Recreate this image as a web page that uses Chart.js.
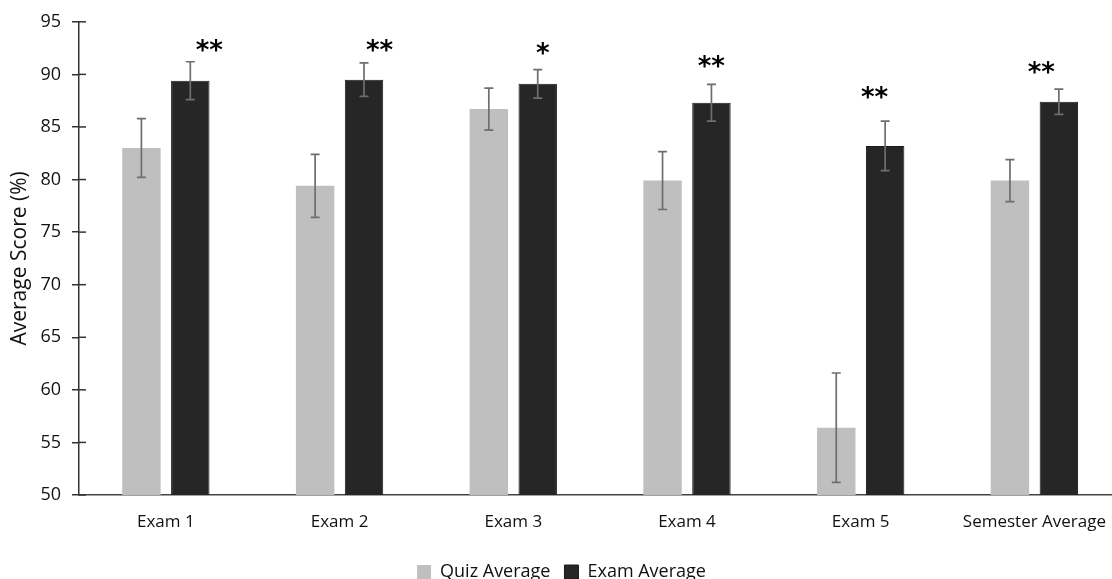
<!DOCTYPE html>
<html>
<head>
<meta charset="utf-8">
<script src="https://cdn.jsdelivr.net/npm/chart.js@4/dist/chart.umd.min.js"></script>
<style>
    html, body { margin: 0; padding: 0; background: #fff; overflow: hidden; }
    #wrap { width: 1123px; height: 591px; }
</style>
</head>
<body>
<div id="wrap"><canvas id="scoreChart"></canvas></div>
<script>
// Quiz vs exam averages

const categories = ['Exam 1', 'Exam 2', 'Exam 3', 'Exam 4', 'Exam 5', 'Semester Average'];
const quizAvg = [83.0, 79.4, 86.7, 79.9, 56.4, 79.9];
const quizErr = [2.8, 3.0, 2.0, 2.75, 5.2, 2.0];
const examAvg = [89.4, 89.5, 89.1, 87.3, 83.2, 87.4];
const examErr = [1.8, 1.6, 1.35, 1.75, 2.35, 1.2];
const yTicks = [50, 55, 60, 65, 70, 75, 80, 85, 90, 95];

// significance markers (category position, score level)
const sigText = ['**', '**', '*', '**', '**', '**'];
const sigX = [0.25, 1.23, 2.17, 3.14, 4.08, 5.04];
const sigY = [92.6, 92.55, 92.3, 91.1, 88.1, 90.5];

const FONT = '"Open Sans", sans-serif';

// error bars + tick marks crossing the y axis + asterisks
const extrasPlugin = {
    id: 'extras',
    afterDatasetsDraw(chart) {
        const ctx = chart.ctx;
        const y = chart.scales.y;
        const x = chart.scales.x;
        const errs = [quizErr, examErr];

        ctx.save();
        ctx.strokeStyle = '#6e6e6e';
        ctx.lineWidth = 1.7;
        chart.data.datasets.forEach((ds, di) => {
            const meta = chart.getDatasetMeta(di);
            meta.data.forEach((bar, i) => {
                const v = ds.data[i];
                const top = y.getPixelForValue(v + errs[di][i]);
                const bot = y.getPixelForValue(v - errs[di][i]);
                ctx.beginPath();
                ctx.moveTo(bar.x, top);
                ctx.lineTo(bar.x, bot);
                ctx.moveTo(bar.x - 4.5, top);
                ctx.lineTo(bar.x + 4.5, top);
                ctx.moveTo(bar.x - 4.5, bot);
                ctx.lineTo(bar.x + 4.5, bot);
                ctx.stroke();
            });
        });

        // inner half of the y tick marks
        ctx.strokeStyle = '#333';
        ctx.lineWidth = 1.5;
        yTicks.forEach(t => {
            const py = y.getPixelForValue(t);
            ctx.beginPath();
            ctx.moveTo(chart.chartArea.left, py);
            ctx.lineTo(chart.chartArea.left + 7, py);
            ctx.stroke();
        });

        ctx.fillStyle = '#000';
        ctx.font = 'bold 26px "DejaVu Sans", sans-serif';
        ctx.textAlign = 'center';
        ctx.textBaseline = 'middle';
        sigText.forEach((s, i) => {
            ctx.fillText(s, x.getPixelForValue(sigX[i]), y.getPixelForValue(sigY[i]) + 5);
        });
        ctx.restore();
    }
};

new Chart(document.getElementById('scoreChart'), {
    type: 'bar',
    data: {
        labels: categories,
        datasets: [
            {
                label: 'Quiz Average',
                data: quizAvg,
                backgroundColor: '#bfbfbf',
                borderWidth: 0,
                categoryPercentage: 0.563,
                barPercentage: 0.786
            },
            {
                label: 'Exam Average',
                data: examAvg,
                backgroundColor: '#262626',
                borderColor: '#1a1a1a',
                borderWidth: 1,
                categoryPercentage: 0.563,
                barPercentage: 0.786
            }
        ]
    },
    options: {
        responsive: true,
        maintainAspectRatio: false,
        animation: false,
        devicePixelRatio: 1,
        layout: { padding: { top: 21, right: 0, bottom: 0, left: 0 } },
        plugins: {
            tooltip: { enabled: false },
            legend: {
                position: 'bottom',
                labels: {
                    boxWidth: 14,
                    boxHeight: 14,
                    padding: 14,
                    color: '#111',
                    font: { family: FONT, size: 18 }
                }
            }
        },
        scales: {
            x: {
                grid: { display: false, drawTicks: false },
                border: { display: true, color: '#444', width: 1.5 },
                ticks: {
                    color: '#111',
                    padding: 17,
                    maxRotation: 0,
                    autoSkip: false,
                    font: { family: FONT, size: 17 }
                },
                afterFit(scale) { scale.height = 54; }
            },
            y: {
                min: 50,
                max: 95,
                afterBuildTicks(scale) { scale.ticks = yTicks.map(v => ({ value: v })); },
                grid: { display: true, drawOnChartArea: false, drawTicks: true, tickLength: 7, color: '#333', lineWidth: 1.5 },
                border: { display: true, color: '#333', width: 1.5 },
                ticks: {
                    color: '#111',
                    padding: 11,
                    font: { family: FONT, size: 18 }
                },
                title: {
                    display: true,
                    text: 'Average Score (%)',
                    color: '#111',
                    padding: { top: 7, bottom: 0 },
                    font: { family: FONT, size: 21 }
                },
                afterFit(scale) { scale.width = 79; }
            }
        }
    },
    plugins: [extrasPlugin]
});
</script>
</body>
</html>
